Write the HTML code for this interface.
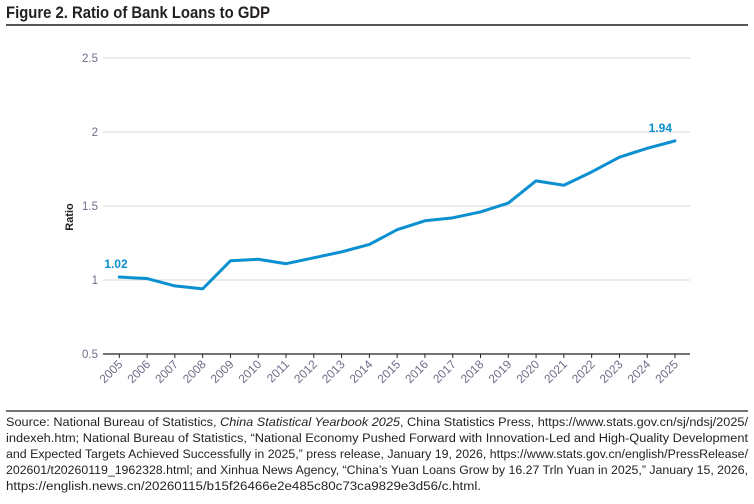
<!DOCTYPE html>
<html><head><meta charset="utf-8"><style>
body{margin:0;background:#fff;width:754px;height:499px;overflow:hidden;font-family:"Liberation Sans",sans-serif}
</style></head><body>
<svg width="754" height="499">
<text x="6" y="18" font-size="17" font-weight="bold" fill="#231f20" textLength="264" lengthAdjust="spacingAndGlyphs">Figure 2. Ratio of Bank Loans to GDP</text>
<line x1="6" y1="25" x2="748" y2="25" stroke="#231f20" stroke-width="1.5"/>
<g id="grid"></g>
<g id="xax"></g>
<text transform="translate(73,217) rotate(-90)" text-anchor="middle" font-size="11" font-weight="bold" fill="#231f20">Ratio</text>
<path id="line" fill="none" stroke="#0a8fd0" stroke-width="3" stroke-linejoin="round" stroke-linecap="round"/>
<g id="labels"></g>
<line x1="6" y1="411" x2="748" y2="411" stroke="#231f20" stroke-width="1.2"/>
<g font-size="12.3" fill="#231f20">
<text x="6" y="426" textLength="742" lengthAdjust="spacingAndGlyphs">Source: National Bureau of Statistics, <tspan font-style="italic">China Statistical Yearbook 2025</tspan>, China Statistics Press, https://www.stats.gov.cn/sj/ndsj/2025/</text>
<text x="6" y="442" textLength="742" lengthAdjust="spacingAndGlyphs">indexeh.htm; National Bureau of Statistics, “National Economy Pushed Forward with Innovation-Led and High-Quality Development</text>
<text x="6" y="458" textLength="742" lengthAdjust="spacingAndGlyphs">and Expected Targets Achieved Successfully in 2025,” press release, January 19, 2026, https://www.stats.gov.cn/english/PressRelease/</text>
<text x="6" y="474" textLength="742" lengthAdjust="spacingAndGlyphs">202601/t20260119_1962328.html; and Xinhua News Agency, “China’s Yuan Loans Grow by 16.27 Trln Yuan in 2025,” January 15, 2026,</text>
<text x="6" y="490" textLength="475" lengthAdjust="spacingAndGlyphs">https://english.news.cn/20260115/b15f26466e2e485c80c73ca9829e3d56/c.html.</text>
</g>
</svg>
<script>
const years=[2005,2006,2007,2008,2009,2010,2011,2012,2013,2014,2015,2016,2017,2018,2019,2020,2021,2022,2023,2024,2025];
const ratios=[1.02,1.01,0.96,0.94,1.13,1.14,1.11,1.15,1.19,1.24,1.34,1.40,1.42,1.46,1.52,1.67,1.64,1.73,1.83,1.89,1.94];
const yTicks=[0.5,1,1.5,2,2.5];
const yTickLabels=["0.5","1","1.5","2","2.5"];
const NS="http://www.w3.org/2000/svg";
const X0=103,X1=690,YB=354,YT=58;
const xS=i=>119.3+i*(675-119.3)/(years.length-1);
const yS=v=>YB-(v-0.5)/(2.5-0.5)*(YB-YT);
function mk(t,a,p){const e=document.createElementNS(NS,t);for(const k in a)e.setAttribute(k,a[k]);p.appendChild(e);return e;}
const g=document.getElementById('grid');
yTicks.forEach((v,i)=>{
 if(i>0){const l=mk('line',{x1:X0,x2:X1,y1:yS(v),y2:yS(v),stroke:'#d9d9d9','stroke-width':1},g);
 
 }
 const t=mk('text',{x:98,y:yS(v)+4,'text-anchor':'end','font-size':11.5,fill:'#6d6e8a'},g);
 t.textContent=yTickLabels[i];
 
 
});
const xa=document.getElementById('xax');
const ax=mk('line',{x1:X0,x2:X1,y1:YB,y2:YB,stroke:'#231f20','stroke-width':1.3},xa);


years.forEach((y,i)=>{
 const x=xS(i);
 const tk=mk('line',{x1:x,x2:x,y1:YB,y2:YB+4,stroke:'#231f20'},xa);
 
 
 const t=mk('text',{transform:`translate(${x+4},${YB+11}) rotate(-45)`,'text-anchor':'end','font-size':12,fill:'#6d6e8a'},xa);
 t.textContent=y;
 
 
});
document.getElementById('line').setAttribute('d',ratios.map((v,i)=>(i?'L':'M')+xS(i)+','+yS(v)).join(''));
const lb=document.getElementById('labels');
[[0,'start',-15],[ratios.length-1,'end',-3]].forEach(([i,anc,dx])=>{
 const t=mk('text',{x:xS(i)+dx,y:yS(ratios[i])-9,'text-anchor':anc,'font-size':12,'font-weight':'bold',fill:'#0a8fd0'},lb);
 t.textContent=ratios[i].toFixed(2);
 
 
});
</script>
</body></html>
